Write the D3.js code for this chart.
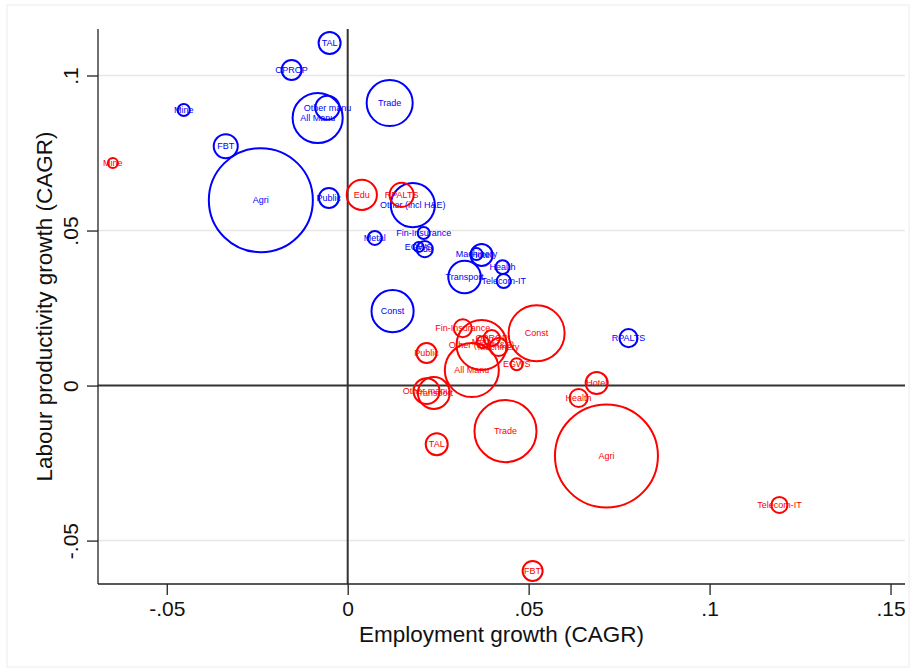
<!DOCTYPE html>
<html>
<head>
<meta charset="utf-8">
<script src="https://cdn.jsdelivr.net/npm/d3@7"></script>
<style>
  html, body { margin: 0; padding: 0; background: #fff; }
  svg { display: block; font-family: "Liberation Sans", Arial, Helvetica, sans-serif; }
</style>
</head>
<body>
<svg id="chart" width="916" height="672"></svg>
<script>
// ---- Data ----
const sectors = ["Agri","Mine","FBT","TAL","OPROP","Metal","Machinery","Transport","Other manu","All Manu","EGWS","Const","Trade","Hotel","Telecom-IT","Fin-Insurance","RPALTS","Public","Edu","Health","Other (incl H&E)"];

// Period 1 (blue)
const empGrowth1  = [-0.0240,-0.0453,-0.0337,-0.0050,-0.0155,0.0075,0.0356,0.0323,-0.0056,-0.0083,0.0196,0.0124,0.0116,0.0370,0.0431,0.0210,0.0776,-0.0052,0.0213,0.0428,0.0180];
const prodGrowth1 = [0.0598,0.0889,0.0772,0.1105,0.1018,0.0476,0.0424,0.0350,0.0896,0.0863,0.0447,0.0240,0.0911,0.0421,0.0337,0.0492,0.0153,0.0605,0.0440,0.0382,0.0582];
const weight1     = [50,0.67,2.67,2.24,1.85,0.9,0.67,4.9,2.67,11.6,0.46,8.2,9.8,2.24,0.9,0.67,1.5,1.85,1.2,0.9,9.0];

// Period 2 (red)
const empGrowth2  = [0.0715,-0.0649,0.0511,0.0246,0.0398,0.0373,0.0417,0.0238,0.0218,0.0343,0.0467,0.0522,0.0436,0.0688,0.1193,0.0318,0.0149,0.0218,0.0039,0.0638,0.0370];
const prodGrowth2 = [-0.0227,0.0718,-0.0598,-0.0189,0.0153,0.0140,0.0124,-0.0024,-0.0018,0.0050,0.0069,0.0169,-0.0147,0.0008,-0.0385,0.0185,0.0615,0.0105,0.0615,-0.0040,0.0131];
const weight2     = [49,0.46,1.85,2.24,1.2,0.67,1.5,4.7,3.1,13.5,0.67,14.5,17.8,2.24,1.2,1.5,2.67,1.85,4.2,1.5,11.6];

const xTicks = [-0.05, 0, 0.05, 0.1, 0.15];
const xTickLabels = ["-.05", "0", ".05", ".1", ".15"];
const yTicks = [-0.05, 0, 0.05, 0.1];
const yTickLabels = ["-.05", "0", ".05", ".1"];

const xTitle = "Employment growth (CAGR)";
const yTitle = "Labour productivity growth (CAGR)";

// ---- Layout ----
const svg = d3.select("#chart");
const W = 916, H = 672;
const plot = { left: 98, right: 905, top: 29, bottom: 584 };

const x = d3.scaleLinear().domain([-0.069, 0.154]).range([plot.left, plot.right]);
const y = d3.scaleLinear().domain([-0.064, 0.115]).range([plot.bottom, plot.top]);
const r = d3.scaleSqrt().domain([0, 50]).range([0, 52]);

// outer frame
svg.append("rect").attr("x", 7).attr("y", 5).attr("width", W - 14).attr("height", H - 10)
  .attr("fill", "#fff").attr("stroke", "#ececec").attr("stroke-width", 1);

// gridlines
svg.append("g").selectAll("line").data(yTicks.filter(d => d !== 0)).join("line")
  .attr("x1", plot.left).attr("x2", plot.right)
  .attr("y1", d => y(d)).attr("y2", d => y(d))
  .attr("stroke", "#e6e6e6").attr("stroke-width", 1.5);

// reference lines at zero
svg.append("line").attr("x1", plot.left).attr("x2", plot.right)
  .attr("y1", y(0)).attr("y2", y(0)).attr("stroke", "#333").attr("stroke-width", 2);
svg.append("line").attr("x1", x(0)).attr("x2", x(0))
  .attr("y1", plot.top).attr("y2", plot.bottom).attr("stroke", "#333").attr("stroke-width", 2);

// axes
const xAxis = d3.axisBottom(x).tickValues(xTicks).tickFormat((d, i) => xTickLabels[i]).tickSize(11).tickPadding(6);
const yAxis = d3.axisLeft(y).tickValues(yTicks).tickFormat((d, i) => yTickLabels[i]).tickSize(11).tickPadding(4);

const gx = svg.append("g").attr("transform", `translate(0,${plot.bottom})`).call(xAxis);
gx.select(".domain").attr("d", `M${plot.left},0H${plot.right}`).attr("stroke", "#222").attr("stroke-width", 1.3);
gx.selectAll(".tick line").attr("stroke", "#222").attr("stroke-width", 1.3);
gx.selectAll(".tick text").attr("font-size", 21).attr("fill", "#111").attr("font-family", "Liberation Sans, Arial, sans-serif");

const gy = svg.append("g").attr("transform", `translate(${plot.left},0)`).call(yAxis);
gy.select(".domain").attr("d", `M0,${plot.top}V${plot.bottom}`).attr("stroke", "#222").attr("stroke-width", 1.3);
gy.selectAll(".tick line").attr("stroke", "#222").attr("stroke-width", 1.3);
gy.selectAll(".tick text")
  .attr("font-size", 21).attr("fill", "#111").attr("font-family", "Liberation Sans, Arial, sans-serif")
  .attr("text-anchor", "middle").attr("dy", null).attr("x", null)
  .attr("transform", "translate(-26,0) rotate(-90)")
  .attr("dominant-baseline", "middle");

// titles
svg.append("text").attr("x", (plot.left + plot.right) / 2).attr("y", 642)
  .attr("text-anchor", "middle").attr("font-size", 22.5).attr("fill", "#111").text(xTitle);
svg.append("text").attr("transform", `translate(52,${(plot.top + plot.bottom) / 2}) rotate(-90)`)
  .attr("text-anchor", "middle").attr("font-size", 22.5).attr("fill", "#111").text(yTitle);

// series
function series(ex, py, w, color) {
  const data = sectors.map((s, i) => ({ s, ex: ex[i], py: py[i], w: w[i] }));
  const g = svg.append("g");
  g.selectAll("circle").data(data).join("circle")
    .attr("cx", d => x(d.ex)).attr("cy", d => y(d.py)).attr("r", d => r(d.w))
    .attr("fill", "none").attr("stroke", color).attr("stroke-width", 2);
  g.selectAll("text").data(data).join("text")
    .attr("x", d => x(d.ex)).attr("y", d => y(d.py))
    .attr("text-anchor", "middle").attr("dominant-baseline", "central")
    .attr("font-size", 9).attr("fill", color).text(d => d.s);
}
series(empGrowth1, prodGrowth1, weight1, "#0000ff");
series(empGrowth2, prodGrowth2, weight2, "#ff0000");
</script>
</body>
</html>
